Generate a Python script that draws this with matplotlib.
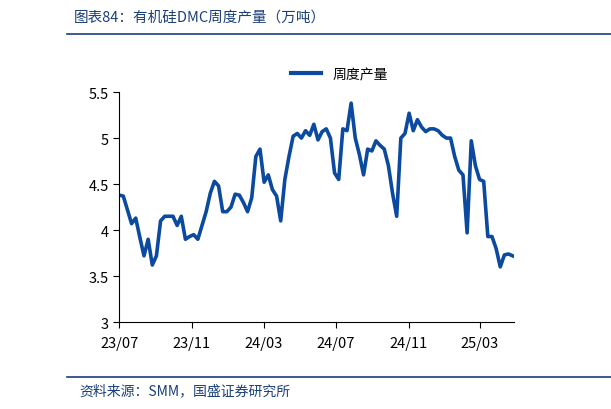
import numpy as np
import pandas as pd
import matplotlib.pyplot as plt
import matplotlib.dates as mdates
from matplotlib.lines import Line2D

plt.rcParams['font.family'] = ['Noto Sans CJK SC', 'DejaVu Sans']

# weekly DMC output, 10k tonnes
values = [4.38, 4.37, 4.22, 4.07, 4.13, 3.92, 3.72, 3.90, 3.62, 3.72,
          4.10, 4.15, 4.15, 4.15, 4.05, 4.15, 3.90, 3.93, 3.95, 3.90,
          4.05, 4.20, 4.40, 4.53, 4.48, 4.20, 4.20, 4.25, 4.39, 4.38,
          4.30, 4.20, 4.35, 4.80, 4.88, 4.52, 4.60, 4.44, 4.37, 4.10,
          4.55, 4.80, 5.02, 5.05, 5.00, 5.08, 5.03, 5.15, 4.98, 5.07,
          5.10, 5.00, 4.62, 4.55, 5.10, 5.08, 5.38, 5.00, 4.82, 4.60,
          4.88, 4.86, 4.97, 4.92, 4.88, 4.70, 4.40, 4.15, 5.00, 5.05,
          5.27, 5.08, 5.20, 5.12, 5.07, 5.10, 5.10, 5.08, 5.03, 5.00,
          5.00, 4.80, 4.65, 4.60, 3.97, 4.97, 4.70, 4.55, 4.53, 3.93,
          3.93, 3.80, 3.60, 3.73, 3.74, 3.72]
dates = pd.date_range("2023-07-01", periods=len(values), freq="7D")
ticks = pd.to_datetime(["2023-07-01", "2023-11-01", "2024-03-01",
                        "2024-07-01", "2024-11-01", "2025-03-01"])
blue = "#0b4a9e"

fig = plt.figure(figsize=(6.11, 4.10), dpi=100)
ax = fig.add_axes([0.195, 0.212, 0.647, 0.561])
ax.plot(dates, values, color=blue, lw=2.6)
ax.set_ylim(3, 5.5)
ax.set_yticks([3, 3.5, 4, 4.5, 5, 5.5])
ax.set_yticklabels(["3", "3.5", "4", "4.5", "5", "5.5"])
ax.set_xlim(dates[0], dates[-1] + pd.Timedelta(days=3))
ax.set_xticks(ticks)
ax.xaxis.set_major_formatter(mdates.DateFormatter("%y/%m"))
for s in ["top", "right"]:
    ax.spines[s].set_visible(False)
ax.tick_params(labelsize=10.5, direction="out", length=4)
ax.tick_params(axis="x", pad=6)

fig.legend([Line2D([], [], color=blue, lw=3)], ["周度产量"],
           loc="center", bbox_to_anchor=(0.555, 0.817), frameon=False,
           fontsize=10, handlelength=2.2)

navy = "#1a3f7a"
fig.text(0.12, 0.958, "图表84：有机硅DMC周度产量（万吨）", fontsize=10.5,
         style="italic", color=navy, va="center")
fig.add_artist(Line2D([0.11, 1.0], [0.914, 0.914], color=navy, lw=1.2))
fig.add_artist(Line2D([0.11, 1.0], [0.078, 0.078], color=navy, lw=1.2))
fig.text(0.13, 0.045, "资料来源：SMM，国盛证券研究所", fontsize=10,
         style="italic", color=navy, va="center")

fig.savefig("out.png", dpi=100)
